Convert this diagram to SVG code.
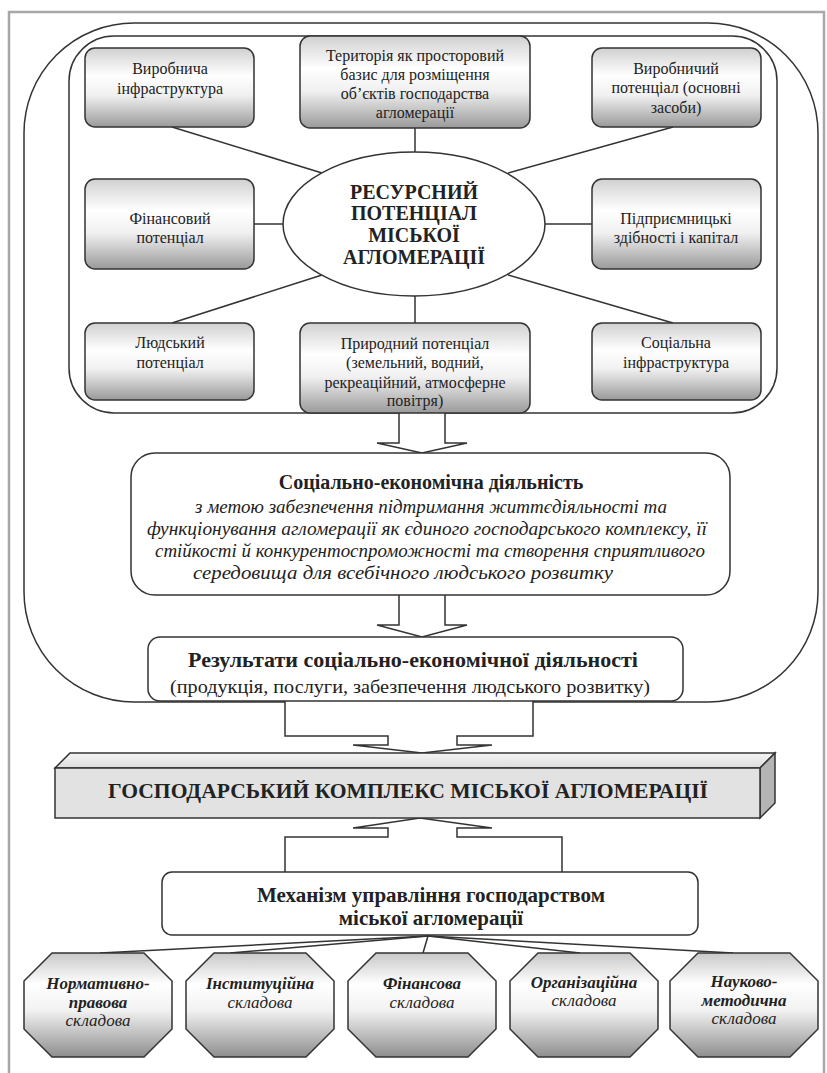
<svg xmlns="http://www.w3.org/2000/svg" width="827" height="1073" viewBox="0 0 827 1073">
<defs>
<linearGradient id="gBox" x1="0" y1="0" x2="0" y2="1">
<stop offset="0" stop-color="#d0d0d0"/>
<stop offset="0.35" stop-color="#ffffff"/>
<stop offset="0.6" stop-color="#f0f0f0"/>
<stop offset="1" stop-color="#9a9a9a"/>
</linearGradient>
<linearGradient id="gOct" x1="0" y1="0" x2="0" y2="1">
<stop offset="0" stop-color="#c8c8c8"/>
<stop offset="0.3" stop-color="#ffffff"/>
<stop offset="0.55" stop-color="#f2f2f2"/>
<stop offset="1" stop-color="#8e8e8e"/>
</linearGradient>
<linearGradient id="gTop" x1="0" y1="0" x2="0" y2="1">
<stop offset="0" stop-color="#f4f4f4"/>
<stop offset="1" stop-color="#dcdcdc"/>
</linearGradient>
</defs>
<style>
.box{stroke:#333;stroke-width:1.5;fill:url(#gBox)}
.oct{stroke:#333;stroke-width:1.5;fill:url(#gOct)}
.plain{stroke:#333;stroke-width:1.5;fill:#fff}
.frame{stroke:#333;stroke-width:1.5;fill:none}
.t{font-family:"Liberation Serif","Times New Roman",serif;fill:#222;text-anchor:middle;dominant-baseline:central}
.s16{font-size:16px}
.s17{font-size:17px}
.s18{font-size:18px}
.s20{font-size:20px}
.s21{font-size:21px}
.b{font-weight:bold}
.i{font-style:italic}
.conn{stroke:#333;stroke-width:1.5;fill:none}
.arrow{stroke:#333;stroke-width:1.5;fill:#fff}
</style>
<rect x="0" y="0" width="827" height="1073" fill="#fff"/>
<rect x="9" y="12" width="815" height="1080" fill="none" stroke="#a8a8a8" stroke-width="2.5"/>

<g id="containers">
<rect x="24" y="23" width="794" height="679" rx="110" ry="110" class="frame"/>
<rect x="69" y="36" width="708" height="377" rx="45" ry="45" class="frame"/>
</g>

<g id="connectors">
<line class="conn" x1="172" y1="127" x2="322" y2="173"/>
<line class="conn" x1="415" y1="128" x2="415" y2="152"/>
<line class="conn" x1="673" y1="127" x2="508" y2="173"/>
<line class="conn" x1="254" y1="224" x2="283" y2="224"/>
<line class="conn" x1="545" y1="224" x2="592" y2="224"/>
<line class="conn" x1="322" y1="275" x2="172" y2="323"/>
<line class="conn" x1="415" y1="296" x2="415" y2="323"/>
<line class="conn" x1="508" y1="275" x2="673" y2="323"/>
<polyline class="arrow" points="399,413 399,443 377,443 422,453 467,443 445,443 445,413"/>
<polyline class="arrow" points="399,595 399,625 377,625 422,637 467,625 445,625 445,595"/>
<polyline class="arrow" points="285,701 285,736 388,736 388,745 353,745 422,753 492,745 457,745 457,736 533,736 533,701"/>
<polyline class="arrow" points="285,872 285,837 388,837 388,828 353,828 420,818 492,828 457,828 457,837 562,837 562,872"/>
<line class="conn" x1="428" y1="936" x2="100" y2="953"/>
<line class="conn" x1="428" y1="936" x2="230" y2="953"/>
<line class="conn" x1="428" y1="936" x2="423" y2="953"/>
<line class="conn" x1="428" y1="936" x2="580" y2="953"/>
<line class="conn" x1="428" y1="936" x2="733" y2="953"/>
</g>

<g id="n-vyrobnycha-infra">
<rect class="box" x="85" y="48" width="169" height="79" rx="10"/>
<text class="t s16" x="170" y="68">Виробнича</text>
<text class="t s16" x="170" y="88">інфраструктура</text>
</g>
<g id="n-terytoriia">
<rect class="box" x="300" y="36" width="230" height="92" rx="10"/>
<text class="t s16" x="415" y="55">Територія як просторовий</text>
<text class="t s16" x="415" y="74">базис для розміщення</text>
<text class="t s16" x="415" y="93">об’єктів господарства</text>
<text class="t s16" x="415" y="112">агломерації</text>
</g>
<g id="n-vyrobnychyi-potentsial">
<rect class="box" x="592" y="48" width="169" height="79" rx="10"/>
<text class="t s16" x="676" y="68">Виробничий</text>
<text class="t s16" x="676" y="87">потенціал (основні</text>
<text class="t s16" x="676" y="107">засоби)</text>
</g>
<g id="n-finansovyi">
<rect class="box" x="85" y="179" width="169" height="90" rx="10"/>
<text class="t s16" x="170" y="218">Фінансовий</text>
<text class="t s16" x="170" y="237">потенціал</text>
</g>
<g id="n-resursnyi">
<ellipse class="plain" cx="414" cy="224" rx="131" ry="72"/>
<text class="t s20 b" x="414" y="192">РЕСУРСНИЙ</text>
<text class="t s20 b" x="414" y="213">ПОТЕНЦІАЛ</text>
<text class="t s20 b" x="414" y="235">МІСЬКОЇ</text>
<text class="t s20 b" x="414" y="257">АГЛОМЕРАЦІЇ</text>
</g>
<g id="n-pidpryiemnytski">
<rect class="box" x="592" y="179" width="169" height="90" rx="10"/>
<text class="t s16" x="676" y="218">Підприємницькі</text>
<text class="t s16" x="676" y="237">здібності і капітал</text>
</g>
<g id="n-liudskyi">
<rect class="box" x="85" y="323" width="169" height="77" rx="10"/>
<text class="t s16" x="170" y="342">Людський</text>
<text class="t s16" x="170" y="362">потенціал</text>
</g>
<g id="n-pryrodnyi">
<rect class="box" x="300" y="323" width="230" height="90" rx="10"/>
<text class="t s16" x="415" y="343">Природний потенціал</text>
<text class="t s16" x="415" y="362">(земельний, водний,</text>
<text class="t s16" x="415" y="382">рекреаційний, атмосферне</text>
<text class="t s16" x="415" y="400">повітря)</text>
</g>
<g id="n-sotsialna-infra">
<rect class="box" x="592" y="323" width="169" height="77" rx="10"/>
<text class="t s16" x="676" y="342">Соціальна</text>
<text class="t s16" x="676" y="362">інфраструктура</text>
</g>

<g id="n-diialnist">
<rect class="plain" x="131" y="453" width="599" height="142" rx="24"/>
<text class="t s20 b" x="431" y="482">Соціально-економічна діяльність</text>
<text class="t s18 i" x="431" y="507" textLength="472" lengthAdjust="spacingAndGlyphs">з метою забезпечення підтримання життєдіяльності та</text>
<text class="t s18 i" x="427" y="529" textLength="560" lengthAdjust="spacingAndGlyphs">функціонування агломерації як єдиного господарського комплексу, її</text>
<text class="t s18 i" x="430" y="551" textLength="550" lengthAdjust="spacingAndGlyphs">стійкості й конкурентоспроможності та створення сприятливого</text>
<text class="t s18 i" x="403" y="573" textLength="420" lengthAdjust="spacingAndGlyphs">середовища для всебічного людського розвитку</text>
</g>

<g id="n-rezultaty">
<rect class="plain" x="148" y="637" width="535" height="64" rx="12"/>
<text class="t s21 b" x="413" y="660" textLength="450" lengthAdjust="spacingAndGlyphs">Результати соціально-економічної діяльності</text>
<text class="t s18" x="410" y="687" textLength="480" lengthAdjust="spacingAndGlyphs">(продукція, послуги, забезпечення людського розвитку)</text>
</g>

<g id="n-hospodarskyi-kompleks">
<polygon points="55,768 70,753 775,753 760,768" fill="url(#gTop)" stroke="#333" stroke-width="1.5"/>
<polygon points="760,768 775,753 775,803 760,818" fill="#b4b4b4" stroke="#333" stroke-width="1.5"/>
<rect x="55" y="768" width="705" height="50" fill="#e2e2e2" stroke="#333" stroke-width="1.5"/>
<text class="t s20 b" x="408" y="791" textLength="600" lengthAdjust="spacingAndGlyphs">ГОСПОДАРСЬКИЙ КОМПЛЕКС МІСЬКОЇ АГЛОМЕРАЦІЇ</text>
</g>

<g id="n-mekhanizm">
<rect class="plain" x="162" y="872" width="536" height="63" rx="10"/>
<text class="t s21 b" x="431" y="895">Механізм управління господарством</text>
<text class="t s21 b" x="431" y="918">міської агломерації</text>
</g>

<g id="n-normatyvno">
<polygon class="oct" points="52,953 144,953 172,981 172,1029 144,1057 52,1057 24,1029 24,981"/>
<text class="t s17 b i" x="98" y="983">Нормативно-</text>
<text class="t s17 b i" x="98" y="1002">правова</text>
<text class="t s17 i" x="98" y="1020">складова</text>
</g>
<g id="n-instytutsiina">
<polygon class="oct" points="214,953 306,953 334,981 334,1029 306,1057 214,1057 186,1029 186,981"/>
<text class="t s17 b i" x="260" y="983">Інституційна</text>
<text class="t s17 i" x="260" y="1002">складова</text>
</g>
<g id="n-finansova">
<polygon class="oct" points="376,953 468,953 496,981 496,1029 468,1057 376,1057 348,1029 348,981"/>
<text class="t s17 b i" x="422" y="983">Фінансова</text>
<text class="t s17 i" x="422" y="1002">складова</text>
</g>
<g id="n-orhanizatsiina">
<polygon class="oct" points="538,953 630,953 658,981 658,1029 630,1057 538,1057 510,1029 510,981"/>
<text class="t s17 b i" x="584" y="982">Організаційна</text>
<text class="t s17 i" x="584" y="1000">складова</text>
</g>
<g id="n-naukovo">
<polygon class="oct" points="698,953 790,953 818,981 818,1029 790,1057 698,1057 670,1029 670,981"/>
<text class="t s17 b i" x="744" y="981">Науково-</text>
<text class="t s17 b i" x="744" y="1000">методична</text>
<text class="t s17 i" x="744" y="1018">складова</text>
</g>
</svg>
